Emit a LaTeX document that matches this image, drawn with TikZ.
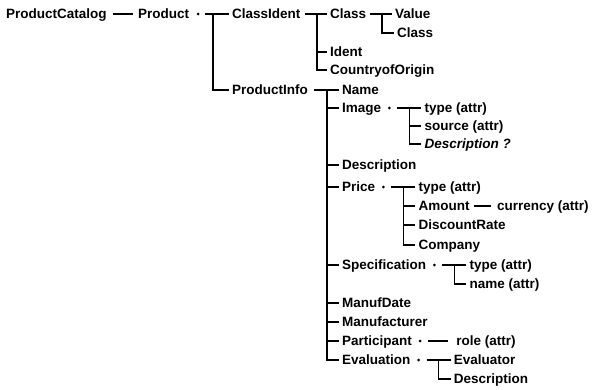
\documentclass[tikz,border=0pt]{standalone}
\usepackage{fontspec}
\setmainfont{Liberation Sans}
\begin{document}
\begin{tikzpicture}[x=1pt,y=-1pt,
  lbl/.style={anchor=west, inner sep=0pt, text height=9.5pt, text depth=0pt,
    font=\fontsize{13.5}{14}\selectfont\bfseries},
  ilbl/.style={lbl, font=\fontsize{13.5}{14}\selectfont\bfseries\itshape},
  dotn/.style={circle, fill, inner sep=0pt, minimum size=3pt},
  ln/.style={line width=1.4pt},
  thinln/.style={line width=1.1pt},
  ]
\useasboundingbox (0,0) rectangle (596,389);
\foreach \n/\y in {1/14,2/33,3/52,4/70,5/90,6/108,7/126,8/144,9/165,10/187,
  11/206,12/225,13/245,14/265,15/284,16/303,17/322,18/341,19/360,20/379}
  {\coordinate (R\n) at (0,\y);}

% level 0 / 1
\node[lbl] (pc) at (6,14) {ProductCatalog};
\node[lbl] (pr) at (138,14) {Product};
\draw[thinln] ([xshift=6pt]pc.east) -- ([xshift=-5pt]pr.west);
\node[dotn] (prd) at (198,14) {};
\coordinate (t1s) at (205,14);
\coordinate (t1) at (213,14);
\node[lbl] (ci) at (232,14) {ClassIdent};
\node[lbl] (pi) at (232,90) {ProductInfo};
\draw[ln] (t1s) -- ([xshift=-3pt]ci.west);
\draw[ln] (t1) |- ([xshift=-3pt]pi.west);

% ClassIdent
\coordinate (t2s) at (305,14);
\coordinate (t2) at (317,14);
\node[lbl] (cls) at (330,14) {Class};
\node[lbl] (idn) at (330,52) {Ident};
\node[lbl] (coo) at (330,70) {CountryofOrigin};
\draw[ln] (t2s) -- ([xshift=-3pt]cls.west);
\draw[ln] (t2 |- idn.west) -- ([xshift=-3pt]idn.west);
\draw[ln] (t2) |- ([xshift=-3pt]coo.west);

% Class
\coordinate (t3s) at ([xshift=4pt]cls.east);
\coordinate (t3) at (382,14);
\node[lbl] (val) at (395,14) {Value};
\node[lbl] (cls2) at (397,33) {Class};
\draw[ln] (t3s) -- ([xshift=-3pt]val.west);
\draw[ln] (t3) |- ([xshift=-3pt]cls2.west);

% ProductInfo
\coordinate (t4s) at (314,90);
\coordinate (t4) at (327,90);
\node[lbl] (nam) at (342,90) {Name};
\node[lbl] (img) at (nam.west |- R6) {Image};
\node[lbl] (dsc) at (nam.west |- R9) {Description};
\node[lbl] (prc) at (nam.west |- R10) {Price};
\node[lbl] (spc) at (nam.west |- R14) {Specification};
\node[lbl] (mfd) at (nam.west |- R16) {ManufDate};
\node[lbl] (mfr) at (nam.west |- R17) {Manufacturer};
\node[lbl] (par) at (nam.west |- R18) {Participant};
\node[lbl] (evl) at (nam.west |- R19) {Evaluation};
\draw[ln] (t4s) -- ([xshift=-3pt]nam.west);
\foreach \c in {img,dsc,prc,spc,mfd,mfr,par}
  \draw[ln] (t4 |- \c.west) -- ([xshift=-3pt]\c.west);
\draw[ln] (t4) |- ([xshift=-3pt]evl.west);

% Image
\node[dotn] (imgd) at ([xshift=8pt]img.east) {};
\coordinate (t5s) at ([xshift=8pt]imgd.center);
\coordinate (t5) at ([xshift=12pt]t5s);
\node[lbl] (ity) at ([xshift=15pt]t5) {type (attr)};
\node[lbl] (isr) at (ity.west |- R7) {source (attr)};
\node[ilbl] (ids) at (ity.west |- R8) {Description ?};
\draw[ln] (t5s) -- ([xshift=-3pt]ity.west);
\draw[ln] (t5 |- isr.west) -- ([xshift=-3pt]isr.west);
\draw[ln] (t5) |- ([xshift=-3pt]ids.west);

% Price
\node[dotn] (prcd) at ([xshift=8pt]prc.east) {};
\coordinate (t6s) at ([xshift=8pt]prcd.center);
\coordinate (t6) at ([xshift=12pt]t6s);
\node[lbl] (pty) at ([xshift=15pt]t6) {type (attr)};
\node[lbl] (amt) at (pty.west |- R11) {Amount};
\node[lbl] (dis) at (pty.west |- R12) {DiscountRate};
\node[lbl] (cmp) at (pty.west |- R13) {Company};
\draw[ln] (t6s) -- ([xshift=-3pt]pty.west);
\draw[ln] (t6 |- amt.west) -- ([xshift=-3pt]amt.west);
\draw[ln] (t6 |- dis.west) -- ([xshift=-3pt]dis.west);
\draw[ln] (t6) |- ([xshift=-3pt]cmp.west);
\node[lbl] (cur) at (497,206) {currency (attr)};
\draw[ln] ([xshift=4pt]amt.east) -- ([xshift=-6pt]cur.west);

% Specification
\node[dotn] (spcd) at ([xshift=8pt]spc.east) {};
\coordinate (t7s) at ([xshift=8pt]spcd.center);
\coordinate (t7) at ([xshift=12pt]t7s);
\node[lbl] (sty) at ([xshift=15pt]t7) {type (attr)};
\node[lbl] (snm) at (sty.west |- R15) {name (attr)};
\draw[ln] (t7s) -- ([xshift=-3pt]sty.west);
\draw[ln] (t7) |- ([xshift=-3pt]snm.west);

% Participant
\node[dotn] (pard) at ([xshift=8pt]par.east) {};
\node[lbl] (rol) at ([xshift=36pt]pard.center) {role (attr)};
\draw[thinln] ([xshift=8pt]pard.center) -- ([xshift=-8pt]rol.west);

% Evaluation
\node[dotn] (evld) at ([xshift=8pt]evl.east) {};
\coordinate (t8s) at ([xshift=8pt]evld.center);
\coordinate (t8) at ([xshift=12pt]t8s);
\node[lbl] (evr) at ([xshift=15pt]t8) {Evaluator};
\node[lbl] (evd) at (evr.west |- R20) {Description};
\draw[ln] (t8s) -- ([xshift=-3pt]evr.west);
\draw[ln] (t8) |- ([xshift=-3pt]evd.west);
\end{tikzpicture}
\end{document}
